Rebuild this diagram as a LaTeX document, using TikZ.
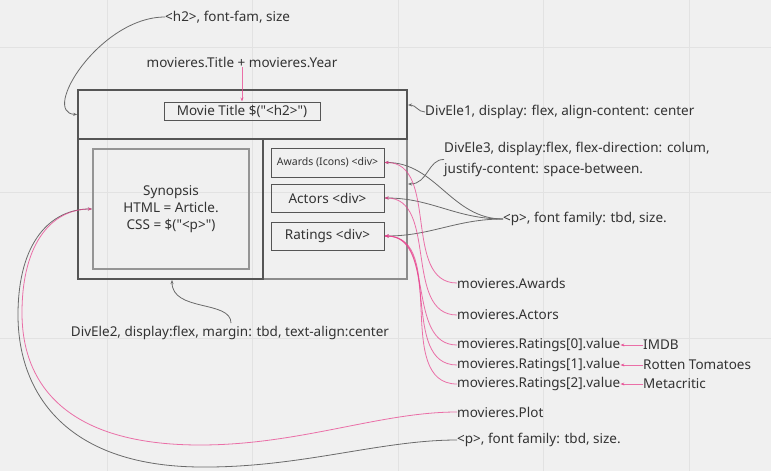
\documentclass[tikz,border=0pt]{standalone}
\usepackage{fontspec}
\setmainfont{Noto Sans}
\usetikzlibrary{arrows.meta,calc}
\definecolor{bgc}{HTML}{F0F0F0}
\definecolor{gridc}{HTML}{E2E2E2}
\definecolor{txtc}{HTML}{333333}
\definecolor{boxdark}{HTML}{555555}
\definecolor{boxlight}{HTML}{8C8C8C}
\definecolor{sync}{HTML}{959595}
\definecolor{connc}{HTML}{6A6A6A}
\definecolor{pinkc}{HTML}{E8448F}
\newcommand{\dq}{\textquotedbl}
\tikzset{
  lbl/.style={anchor=west,inner sep=0pt,text=txtc,font=\fontsize{13.5}{15}\selectfont},
  clbl/.style={inner sep=0pt,text=txtc,font=\fontsize{13.5}{15}\selectfont},
  boxd/.style={draw=boxdark,line width=1.6pt,inner sep=0pt},
  smallbox/.style={draw=boxdark,line width=1pt,inner sep=0pt,minimum width=113pt,text=txtc,font=\fontsize{13.5}{15}\selectfont},
  tip/.style={-{Stealth[length=4pt,width=3pt]}},
  gconn/.style={draw=connc,line width=0.8pt,tip},
  pconn/.style={draw=pinkc,draw opacity=0.75,line width=0.8pt,tip},
}
\begin{document}
\begin{tikzpicture}[x=1pt,y=-1pt]
\fill[bgc] (0,0) rectangle (771,471);
\useasboundingbox (0,0) rectangle (771,471);
% grid
\foreach \gx in {107,252.6,398.2,543.8,689.4} \draw[gridc,line width=0.8pt] (\gx,0) -- (\gx,471);
\foreach \gy in {47,192.6,338.2} \draw[gridc,line width=0.8pt] (0,\gy) -- (771,\gy);
% boxes
\node[draw=boxlight,line width=1.4pt,minimum width=144pt,minimum height=140pt,inner sep=0pt] (right) at (335,209) {};
\node[boxd,minimum width=185pt,minimum height=140pt] (left) at (170.5,209) {};
\node[boxd,minimum width=329pt,minimum height=49pt] (top) at (242.5,114.5) {};
\node[draw=boxdark,line width=1pt,minimum width=156pt,minimum height=18pt,inner sep=0pt,text=txtc,font=\fontsize{13.5}{15}\selectfont] (title) at (242,111) {Movie Title \$(\dq<h2>\dq)};
\node[draw=sync,line width=2pt,minimum width=156pt,minimum height=120pt,inner sep=0pt,align=center,text=txtc,font=\fontsize{13.5}{17}\selectfont] (syn) at (171,209) {Synopsis\\HTML = Article.\\CSS = \$(\dq<p>\dq)};
\node[smallbox,minimum height=29pt,font=\fontsize{10.5}{12}\selectfont] (awards) at (327.5,162.5) {Awards (Icons) <div>};
\node[smallbox,minimum height=28pt] (actors) at (327.5,198) {Actors <div>};
\node[smallbox,minimum height=28pt] (ratings) at (327.5,236) {Ratings <div>};
% labels
\node[lbl] (h2lbl) at (165,17) {<h2>, font-fam, size};
\node[clbl] (titlelbl) at (242,62) {movieres.Title + movieres.Year};
\node[lbl] (d1lbl) at (425,112) {DivEle1, display: flex, align-content: center};
\node[lbl,align=left,font=\fontsize{13.5}{21}\selectfont] (d3lbl) at (444,159.5) {DivEle3, display:flex, flex-direction: colum,\\justify-content: space-between.};
\node[lbl] (p1lbl) at (503,219) {<p>, font family: tbd, size.};
\node[clbl] (d2lbl) at (230,333) {DivEle2, display:flex, margin: tbd, text-align:center};
\node[lbl] (awlbl) at (457,283) {movieres.Awards};
\node[lbl] (aclbl) at (457,315) {movieres.Actors};
\node[lbl] (r0) at (457,345) {movieres.Ratings[0].value};
\node[lbl] (r1) at (457,365) {movieres.Ratings[1].value};
\node[lbl] (r2) at (457,384) {movieres.Ratings[2].value};
\node[lbl] (imdb) at (643,345) {IMDB};
\node[lbl] (rt) at (643,365) {Rotten Tomatoes};
\node[lbl] (meta) at (643,384) {Metacritic};
\node[lbl] (plotlbl) at (457,412) {movieres.Plot};
\node[lbl] (p2lbl) at (457,440) {<p>, font family: tbd, size.};
% tip coordinates
\coordinate (d1tip) at (408,105);
\coordinate (d3tip) at (408,184);
\coordinate (d2tip) at (172,280);
% gray connectors
\draw[gconn] (h2lbl.west) .. controls (100,17) and (40,113) .. (top.west);
\draw[gconn] (d1lbl.west) .. controls (418,112) and (416,105) .. (d1tip);
\draw[gconn] (d3lbl.west) .. controls (428,159) and (428,184) .. (d3tip);
\draw[gconn] ($(d2lbl.north)+(1,-3)$) .. controls (231,300) and (172,312) .. (d2tip);
\draw[gconn] (p1lbl.west) to[out=180,in=0] (awards.east);
\draw[gconn] (p1lbl.west) to[out=180,in=0] (actors.east);
\draw[gconn] (p1lbl.west) to[out=180,in=0] (ratings.east);
\draw[gconn] (p2lbl.west) .. controls (380,440) and (300,468) .. (200,467) .. controls (63,466) and (18,390) .. (18,315) .. controls (18,240) and (52,209) .. (syn.west);
% pink connectors
\draw[pconn] (titlelbl.south) -- (title.north);
\draw[pconn] (awlbl.west) to[out=180,in=0] (awards.east);
\draw[pconn] (aclbl.west) to[out=180,in=0] (actors.east);
\draw[pconn] (r0.west) to[out=180,in=0] (ratings.east);
\draw[pconn] (r1.west) to[out=180,in=0] (ratings.east);
\draw[pconn] (r2.west) to[out=180,in=0] (ratings.east);
\draw[pconn] (imdb.west) -- (r0.east);
\draw[pconn] (rt.west) -- (r1.east);
\draw[pconn] (meta.west) -- (r2.east);
\draw[pconn] (plotlbl.west) .. controls (380,412) and (300,445) .. (200,445) .. controls (67,445) and (22,385) .. (22,313) .. controls (22,240) and (54,209) .. (syn.west);
\end{tikzpicture}
\end{document}
